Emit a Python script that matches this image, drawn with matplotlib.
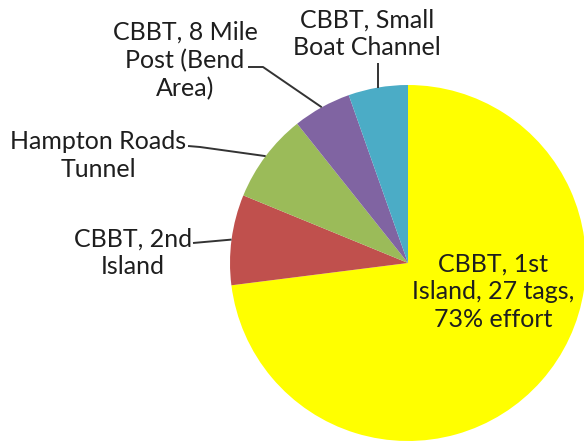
import matplotlib
matplotlib.use("Agg")
import numpy as np
import matplotlib.pyplot as plt

# Share of tagging effort by site
sites = ["CBBT, 1st Island", "CBBT, 2nd Island", "Hampton Roads Tunnel",
         "CBBT, 8 Mile Post (Bend Area)", "CBBT, Small Boat Channel"]
effort_pct = [73.0, 8.2, 8.1, 5.3, 5.4]
tags_1st_island = 27
colors = ["#FFFF00", "#C0504D", "#9BBB59", "#8064A2", "#4BACC6"]
labels = [
    f"CBBT, 1st\nIsland, {tags_1st_island} tags,\n{effort_pct[0]:.0f}% effort",
    "CBBT, 2nd\nIsland",
    "Hampton Roads\nTunnel",
    "CBBT, 8 Mile\nPost (Bend\nArea)",
    "CBBT, Small\nBoat Channel",
]

W, H = 584, 447
fig = plt.figure(figsize=(W / 100, H / 100), dpi=100)
ax = fig.add_axes([0, 0, 1, 1])

cx, cy, r = 408, H - 263, 178
wedges, _ = ax.pie(effort_pct, colors=colors, startangle=90, counterclock=False,
                   center=(cx, cy), radius=r, wedgeprops=dict(linewidth=0))
ax.set_xlim(0, W)
ax.set_ylim(0, H)
ax.set_aspect("equal")
ax.axis("off")

text_kw = dict(family="Lato", fontsize=18, color="#1e1e1e", ha="center",
               va="baseline", linespacing=1.25, multialignment="center")

# label anchor (x, last-line baseline), measured from the top edge
label_pos = [(493, 327), (133, 274), (98, 177), (185, 96), (367, 55)]
for lab, (x, y) in zip(labels, label_pos):
    ax.text(x, H - y, lab, **text_kw)


def edge_point(w):
    mid = np.deg2rad((w.theta1 + w.theta2) / 2)
    return cx + r * np.cos(mid), cy + r * np.sin(mid)


# leader lines: text end -> elbow -> wedge edge at its mid-angle
leaders = {
    1: [(193, 243)],
    2: [(188, 146), (200, 147)],
    3: [(248, 67), (263, 67)],
    4: [None],
}
for i, pts in leaders.items():
    ex, ey = edge_point(wedges[i])
    xs, ys = [], []
    for p in pts:
        if p is None:
            xs.append(ex)
            ys.append(H - 63)
        else:
            xs.append(p[0])
            ys.append(H - p[1])
    xs.append(ex)
    ys.append(ey)
    ax.plot(xs, ys, color="#333333", lw=1.4, solid_capstyle="butt")

fig.savefig("out.png", dpi=100, facecolor="white")
